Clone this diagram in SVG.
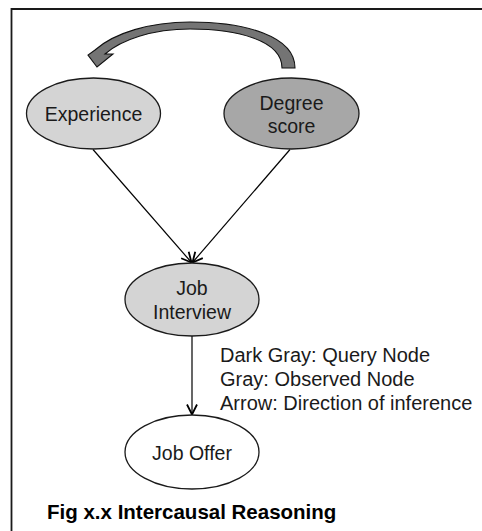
<svg xmlns="http://www.w3.org/2000/svg" width="482" height="531" viewBox="0 0 482 531">
  <defs>
    <style>
      .node ellipse { stroke: #1a1a1a; stroke-width: 1.3; }
      .lbl { font-family: "Liberation Sans", Arial, sans-serif; font-size: 19.5px; fill: #1a1a1a; text-anchor: middle; }
      .legend { font-family: "Liberation Sans", Arial, sans-serif; font-size: 20px; fill: #1a1a1a; }
      .caption { font-family: "Liberation Sans", Arial, sans-serif; font-size: 20.5px; font-weight: bold; fill: #000; }
      .edge { stroke: #000; stroke-width: 1.2; fill: none; marker-end: url(#vhead); }
    </style>
    <marker id="vhead" viewBox="0 0 12 12" refX="11" refY="6" markerWidth="12" markerHeight="12" markerUnits="userSpaceOnUse" orient="auto">
      <path d="M1,1 L11,6 L1,11" fill="none" stroke="#000" stroke-width="1.8"/>
    </marker>
  </defs>

  <!-- frame -->
  <path d="M11.5,531 L11.5,9 L482,9" fill="none" stroke="#1a1a1a" stroke-width="1.8"/>

  <!-- inference arrow -->
  <g id="inference-arrow">
    <path d="M282,68 L295,68 C295,36 245,22 190,22 C150,22 114,33 95,50 L88,55 L97,67 L113,54 L105,54 C121,40 152,29 190,29 C236,29 282,40 282,68 Z" fill="#747474" stroke="#111" stroke-width="1.1" stroke-linejoin="miter"/>
  </g>

  <g id="connectors">
    <line class="edge" x1="93" y1="149.5" x2="191.5" y2="262.5"/>
    <line class="edge" x1="290" y1="149.5" x2="192.5" y2="262.5"/>
    <line class="edge" x1="192" y1="336" x2="192" y2="414.5"/>
  </g>

  <g id="experience" class="node">
    <ellipse cx="93.5" cy="113.5" rx="67" ry="35.5" fill="#d4d4d4"/>
    <text class="lbl" x="93.5" y="120.5">Experience</text>
  </g>

  <g id="degree-score" class="node">
    <ellipse cx="291.5" cy="113.5" rx="67.5" ry="35.5" fill="#a7a7a7"/>
    <text class="lbl" x="291.5" y="109.5">Degree</text>
    <text class="lbl" x="291.5" y="133">score</text>
  </g>

  <g id="job-interview" class="node">
    <ellipse cx="192" cy="299.5" rx="67" ry="36.5" fill="#d4d4d4"/>
    <text class="lbl" x="192" y="294.5">Job</text>
    <text class="lbl" x="192" y="318.5">Interview</text>
  </g>

  <g id="job-offer" class="node">
    <ellipse cx="192" cy="452" rx="67" ry="37" fill="#ffffff"/>
    <text class="lbl" x="192" y="460">Job Offer</text>
  </g>

  <g id="legend">
    <text class="legend" x="220" y="361.5">Dark Gray: Query Node</text>
    <text class="legend" x="220" y="386">Gray: Observed Node</text>
    <text class="legend" x="220" y="410">Arrow: Direction of inference</text>
  </g>

  <text class="caption" x="47" y="519">Fig x.x Intercausal Reasoning</text>
</svg>
